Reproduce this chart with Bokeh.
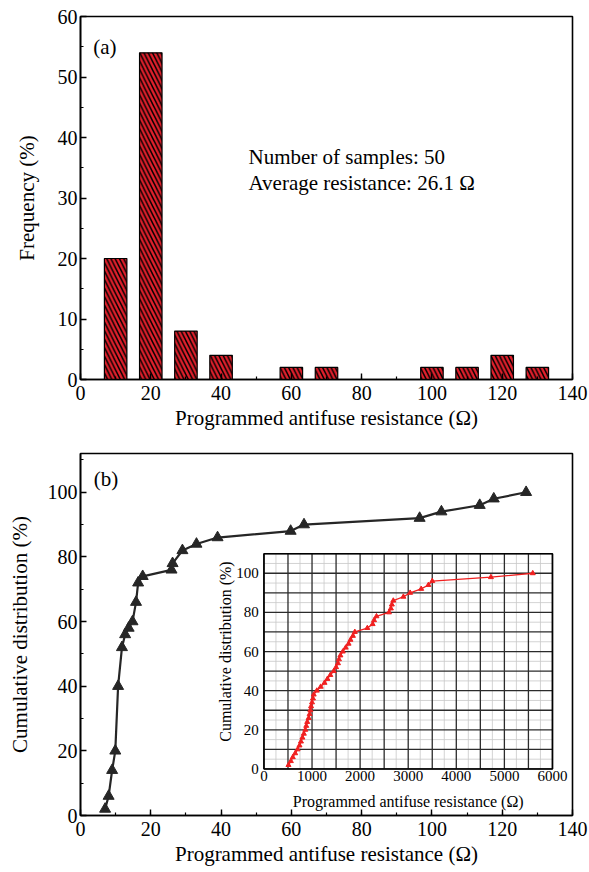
import math
import numpy as np
from bokeh.plotting import figure
from bokeh.layouts import column
from bokeh.models import Range1d, SingleIntervalTicker
from bokeh.core.properties import value
from bokeh.embed import file_html
from bokeh.resources import INLINE

# ---------------- data ----------------
# (a) histogram of programmed antifuse resistance
bin_centers = [10, 20, 30, 40, 60, 70, 100, 110, 120, 130]
frequency = [20, 54, 8, 4, 2, 2, 2, 2, 4, 2]
panel_a_label = ["(a)"]
sample_note = ["Number of samples: 50", "Average resistance: 26.1 \u03a9"]

# (b) cumulative distribution (main)
cum_res = [7.0, 8.0, 9.0, 9.9, 10.7, 11.8, 12.7, 13.7, 14.8, 15.8, 16.4, 17.7,
           25.9, 26.2, 29.0, 33.0, 39.0, 59.8, 63.6, 96.5, 102.7, 113.6, 117.6, 126.8]
cum_pct = [2, 6, 14, 20, 40, 52, 56, 58, 60, 66, 72, 74,
           76, 78, 82, 84, 86, 88, 90, 92, 94, 96, 98, 100]
panel_b_label = ["(b)"]

# (b) inset cumulative distribution
inset_res = [510, 560, 600, 650, 700, 740, 770, 800, 830, 860,
             880, 900, 930, 950, 965, 980, 1000, 1020, 1035, 1100,
             1180, 1260, 1320, 1380, 1450, 1500, 1540, 1560, 1590, 1640,
             1700, 1760, 1800, 1850, 1890, 2150, 2260, 2290, 2340, 2600,
             2640, 2660, 2690, 2900, 3040, 3270, 3420, 3500, 4720, 5590]
inset_pct = [2, 4, 6, 8, 10, 12, 14, 16, 18, 20,
             22, 24, 26, 28, 30, 32, 34, 36, 38, 40,
             42, 44, 46, 48, 50, 52, 54, 56, 58, 60,
             62, 64, 66, 68, 70, 72, 74, 76, 78, 80,
             82, 84, 86, 88, 90, 92, 94, 96, 98, 100]
inset_x_ticks = [0, 1000, 2000, 3000, 4000, 5000, 6000]
inset_y_ticks = [0, 20, 40, 60, 80, 100]

x_label = "Programmed antifuse resistance (\u03a9)"
y_label_a = "Frequency (%)"
y_label_b = "Cumulative distribution (%)"

# ---------------- styles ----------------
SERIF = "Liberation Serif"
BAR_RED = "#e3202c"
DARK = "#262626"
INSET_RED = "#f02020"


def style(p, xint, yint, y_standoff):
    p.xgrid.visible = False
    p.ygrid.visible = False
    p.outline_line_color = "black"
    p.outline_line_width = 1.6
    p.outline_line_alpha = 1.0
    p.background_fill_color = "white"
    p.border_fill_color = "white"
    p.xaxis.ticker = SingleIntervalTicker(interval=xint, num_minor_ticks=2)
    p.yaxis.ticker = SingleIntervalTicker(interval=yint, num_minor_ticks=2)
    for ax in (p.xaxis[0], p.yaxis[0]):
        ax.axis_line_width = 1.6
        ax.axis_line_color = "black"
        ax.major_tick_in = 6
        ax.major_tick_out = 0
        ax.minor_tick_in = 3
        ax.minor_tick_out = 0
        ax.major_tick_line_width = 1.4
        ax.minor_tick_line_width = 1.2
        ax.major_label_text_font = SERIF
        ax.major_label_text_font_size = "20px"
        ax.major_label_text_color = "black"
        ax.axis_label_text_font = SERIF
        ax.axis_label_text_font_size = "21px"
        ax.axis_label_text_font_style = "normal"
        ax.axis_label_text_color = "black"
    p.xaxis.major_label_standoff = 6
    p.xaxis.axis_label_standoff = 3
    p.yaxis.major_label_standoff = 3
    p.yaxis.axis_label_standoff = y_standoff
    p.xaxis.axis_label = x_label


# ---------------- (a) ----------------
p1 = figure(width=589, height=438, x_range=Range1d(0, 140), y_range=Range1d(0, 60),
            output_backend="svg", toolbar_location=None,
            min_border_left=80, min_border_right=17, min_border_top=16, min_border_bottom=59)
style(p1, 20, 10, 16)
p1.yaxis.axis_label = y_label_a

p1.vbar(x=bin_centers, top=frequency, width=6.4, bottom=0,
        fill_color=BAR_RED, line_color="black", line_width=1.2,
        hatch_pattern="\\", hatch_color="black", hatch_weight=1.5, hatch_scale=8.5)

p1.text(x=[3.6], y=[55], text=panel_a_label, text_font=value(SERIF), text_font_size="21px",
        text_align="left", text_baseline="middle", text_color="black")
p1.text(x=[47.8, 47.8], y=[36.8, 32.5], text=sample_note, text_font=value(SERIF),
        text_font_size="21px", text_align="left", text_baseline="middle", text_color="black")

# ---------------- (b) ----------------
p2 = figure(width=589, height=434, x_range=Range1d(0, 140), y_range=Range1d(0, 112),
            output_backend="svg", toolbar_location=None,
            min_border_left=80, min_border_right=17, min_border_top=15, min_border_bottom=57)
style(p2, 20, 20, 13)
p2.yaxis.axis_label = y_label_b

p2.line(cum_res, cum_pct, line_color=DARK, line_width=2.2)
p2.scatter(cum_res, cum_pct, marker="triangle", size=11, fill_color=DARK, line_color=DARK)
p2.text(x=[3.8], y=[104], text=panel_b_label, text_font=value(SERIF), text_font_size="21px",
        text_align="left", text_baseline="middle", text_color="black")

# inset placed inside the main frame via extra ranges
IX0, IX1 = 52.2, 134.3     # inset frame in main x units
IY0, IY1 = 14.4, 81.0      # inset frame in main y units
IXMAX, IYMAX = 6000, 110
sx = IXMAX / (IX1 - IX0)
sy = IYMAX / (IY1 - IY0)
p2.extra_x_ranges = {"ix": Range1d(-IX0 * sx, IXMAX + (140 - IX1) * sx)}
p2.extra_y_ranges = {"iy": Range1d(-IY0 * sy, IYMAX + (112 - IY1) * sy)}
kw = dict(x_range_name="ix", y_range_name="iy")

p2.quad(left=[0], right=[IXMAX], bottom=[0], top=[IYMAX], fill_color="white",
        line_color=None, **kw)
vminor = np.arange(250, IXMAX, 500)
hminor = np.arange(5, IYMAX, 10)
p2.segment(x0=vminor, x1=vminor, y0=0, y1=IYMAX, line_color="#c8c8c8", line_width=0.8, **kw)
p2.segment(x0=0, x1=IXMAX, y0=hminor, y1=hminor, line_color="#c8c8c8", line_width=0.8, **kw)
vmajor = np.arange(0, IXMAX + 1, 500)
hmajor = np.arange(0, IYMAX + 1, 10)
p2.segment(x0=vmajor, x1=vmajor, y0=0, y1=IYMAX, line_color="#2b2b2b", line_width=1.3, **kw)
p2.segment(x0=0, x1=IXMAX, y0=hmajor, y1=hmajor, line_color="#2b2b2b", line_width=1.3, **kw)
p2.quad(left=[0], right=[IXMAX], bottom=[0], top=[IYMAX], fill_color=None,
        line_color="black", line_width=1.6, **kw)

p2.line(inset_res, inset_pct, line_color=INSET_RED, line_width=1.3, **kw)
p2.scatter(inset_res, inset_pct, marker="triangle", size=5, fill_color=INSET_RED,
           line_color=INSET_RED, **kw)

p2.text(x=inset_x_ticks, y=[-1.2] * len(inset_x_ticks), text=[str(v) for v in inset_x_ticks],
        text_font=value(SERIF), text_font_size="15px", text_align="center",
        text_baseline="top", text_color="black", **kw)
p2.text(x=[-110] * len(inset_y_ticks), y=inset_y_ticks, text=[str(v) for v in inset_y_ticks],
        text_font=value(SERIF), text_font_size="15px", text_align="right",
        text_baseline="middle", text_color="black", **kw)
p2.text(x=[3000], y=[-16.5], text=[x_label], text_font=value(SERIF), text_font_size="16px",
        text_align="center", text_baseline="middle", text_color="black", **kw)
p2.text(x=[-800], y=[60], text=[y_label_b], angle=math.pi / 2, text_font=value(SERIF),
        text_font_size="16px", text_align="center", text_baseline="middle",
        text_color="black", **kw)

layout = column(p1, p2, spacing=0)
open("out.html", "w").write(file_html(layout, INLINE))
